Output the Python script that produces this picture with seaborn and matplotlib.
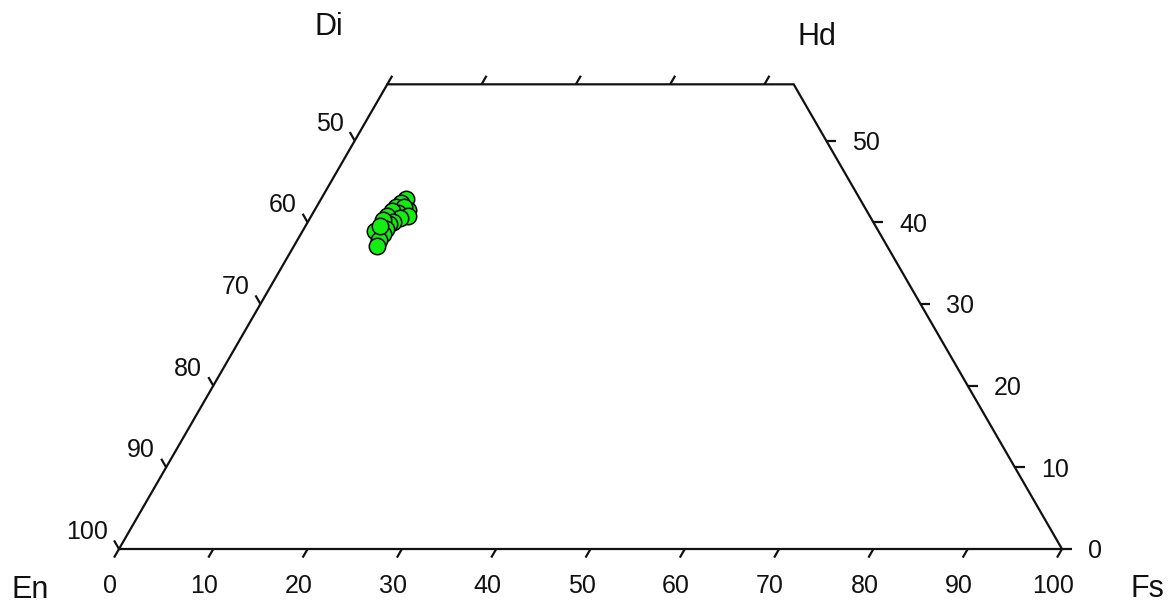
import numpy as np
import pandas as pd
import matplotlib
matplotlib.use("Agg")
import matplotlib.pyplot as plt
import seaborn as sns

# Clinopyroxene analyses (mol %)
wo = [42.9, 42.4, 41.9, 41.5, 41.9, 41.1, 41.4, 40.8, 40.5, 40.8,
      40.0, 39.8, 40.3, 39.2, 38.9, 38.6, 37.8, 39.6, 37.1]
fs = [9.0, 8.7, 8.4, 9.9, 9.3, 9.0, 8.2, 10.2, 9.5, 8.0,
      9.1, 8.7, 7.8, 8.7, 7.7, 8.7, 8.7, 7.9, 8.8]
en = [48.1, 48.9, 49.7, 48.6, 48.8, 49.9, 50.4, 49.0, 50.0, 51.2,
      50.9, 51.5, 51.9, 52.1, 53.4, 52.7, 53.5, 52.5, 54.1]

# Axis ticks
fs_ticks = [0, 10, 20, 30, 40, 50, 60, 70, 80, 90, 100]
fs_top_ticks = [0, 10, 20, 30, 40]
en_ticks = [100, 90, 80, 70, 60, 50]
wo_ticks = [0, 10, 20, 30, 40, 50]
wo_max = 56.9

SQ = np.sqrt(3) / 2


def proj(e, f, w):
    e, f, w = (np.asarray(v, dtype=float) for v in (e, f, w))
    tot = e + f + w
    return 100 * (f + w / 2) / tot, 100 * w * SQ / tot


sns.set_theme(style="white")
plt.rcParams["font.family"] = ["Liberation Sans", "DejaVu Sans"]

px = 9.43  # pixels per composition unit
fig = plt.figure(figsize=(11.73, 6.04), dpi=100)
ax = fig.add_axes([0, 0, 1, 1])

lc = "#111111"
lw = 1.6

# Trapezoid outline En - Fs - Hd - Di
cx, cy = proj([100, 0, 0, 100 - wo_max, 100],
              [0, 100, 100 - wo_max, 0, 0],
              [0, 0, wo_max, wo_max, 0])
ax.plot(cx, cy, color=lc, lw=lw, solid_joinstyle="miter", zorder=2)

L = 1.05
fsz = 18


def tick(x0, y0, dx, dy):
    ax.plot([x0, x0 + L * dx], [y0, y0 + L * dy], color=lc, lw=lw,
            solid_capstyle="butt", zorder=2)


# Bottom (Fs) ticks and labels
for f in fs_ticks:
    x0, y0 = proj(100 - f, f, 0)
    tick(x0, y0, -0.5, -SQ)
    ax.text(x0 - 0.95, y0 - 3.9, f"{f}", ha="center", va="center",
            fontsize=fsz, color=lc)

# Top edge (Fs) ticks
for f in fs_top_ticks:
    x0, y0 = proj(100 - wo_max - f, f, wo_max)
    tick(x0, y0, 0.5, SQ)

# Left (En) ticks and labels
for e in en_ticks:
    x0, y0 = proj(e, 0, 100 - e)
    tick(x0, y0, -0.5, SQ)
    ax.text(x0 - 1.2, y0 + 1.8, f"{e}", ha="right", va="center",
            fontsize=fsz, color=lc)

# Right (Wo) ticks and labels
for w in wo_ticks:
    x0, y0 = proj(0, 100 - w, w)
    tick(x0, y0, 1, 0)
    ax.text(x0 + 2.75, y0 - 0.25, f"{w}", ha="left", va="center",
            fontsize=fsz, color=lc)

# End-member labels
csz = 22
ax.text(-9.44, -4.3, "En", ha="center", va="center", fontsize=csz, color=lc)
ax.text(109.1, -4.2, "Fs", ha="center", va="center", fontsize=csz, color=lc)
ax.text(22.2, 55.4, "Di", ha="center", va="center", fontsize=csz, color=lc)
ax.text(74.0, 54.3, "Hd", ha="center", va="center", fontsize=csz, color=lc)

# Data points
xs, ys = proj(en, fs, wo)
df = pd.DataFrame({"x": xs, "y": ys})
sns.scatterplot(data=df, x="x", y="y", ax=ax, s=140, color="#11EE11",
                edgecolor="black", linewidth=1.1, legend=False, zorder=3)
ax.set_xlim(-119 / px, 1054 / px)
ax.set_ylim(-55 / px, 549 / px)
ax.axis("off")

fig.savefig("out.png", dpi=100, facecolor="white")
